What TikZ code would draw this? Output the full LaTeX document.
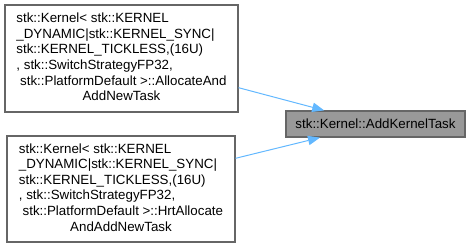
\documentclass[tikz,border=0pt]{standalone}
\usepackage{fontspec}
\setmainfont{Liberation Sans}
\usetikzlibrary{arrows.meta}
\definecolor{edgeblue}{HTML}{63B8FF}
\definecolor{boxgray}{HTML}{666666}
\definecolor{fillgray}{HTML}{999999}

\begin{document}
\begin{tikzpicture}[x=0.75pt, y=-0.75pt,
    caller/.style={rectangle, draw=boxgray, fill=white, line width=0.9pt, inner sep=0pt, font=\fontsize{10}{11.7}\selectfont},
    callee/.style={rectangle, draw=boxgray, fill=fillgray, line width=0.9pt, inner sep=0pt, minimum width=134.25pt, minimum height=19.5pt, font=\fontsize{10}{11.7}\selectfont},
    call/.style={edgeblue, line width=0.75pt, -{Triangle[length=9pt, width=7pt]}}]

% Frame
\useasboundingbox (0,0) rectangle (471,248);

% Callers
\node[caller, minimum width=174.75pt, minimum height=80.25pt] (alloc) at (121.5,58.5) {%
  \begin{tabular}{@{}l@{}}
  stk::Kernel< stk::KERNEL\\
  \_DYNAMIC|stk::KERNEL\_SYNC|\\
  stk::KERNEL\_TICKLESS,(16U)\\
  , stk::SwitchStrategyFP32,\\
  \ stk::PlatformDefault >::AllocateAnd\\
  \multicolumn{1}{@{}c@{}}{AddNewTask}
  \end{tabular}};
\node[caller, minimum width=171pt, minimum height=79.5pt] (hrt) at (121,189) {%
  \begin{tabular}{@{}l@{}}
  stk::Kernel< stk::KERNEL\\
  \_DYNAMIC|stk::KERNEL\_SYNC|\\
  stk::KERNEL\_TICKLESS,(16U)\\
  , stk::SwitchStrategyFP32,\\
  \ stk::PlatformDefault >::HrtAllocate\\
  \multicolumn{1}{@{}c@{}}{AndAddNewTask}
  \end{tabular}};

% Callee
\node[callee] (addtask) at (375.5,124) {stk::Kernel::AddKernelTask};

% Calls
\draw[call] (alloc.-14) -- (addtask);
\draw[call] (hrt.15) -- (addtask);

\end{tikzpicture}
\end{document}
